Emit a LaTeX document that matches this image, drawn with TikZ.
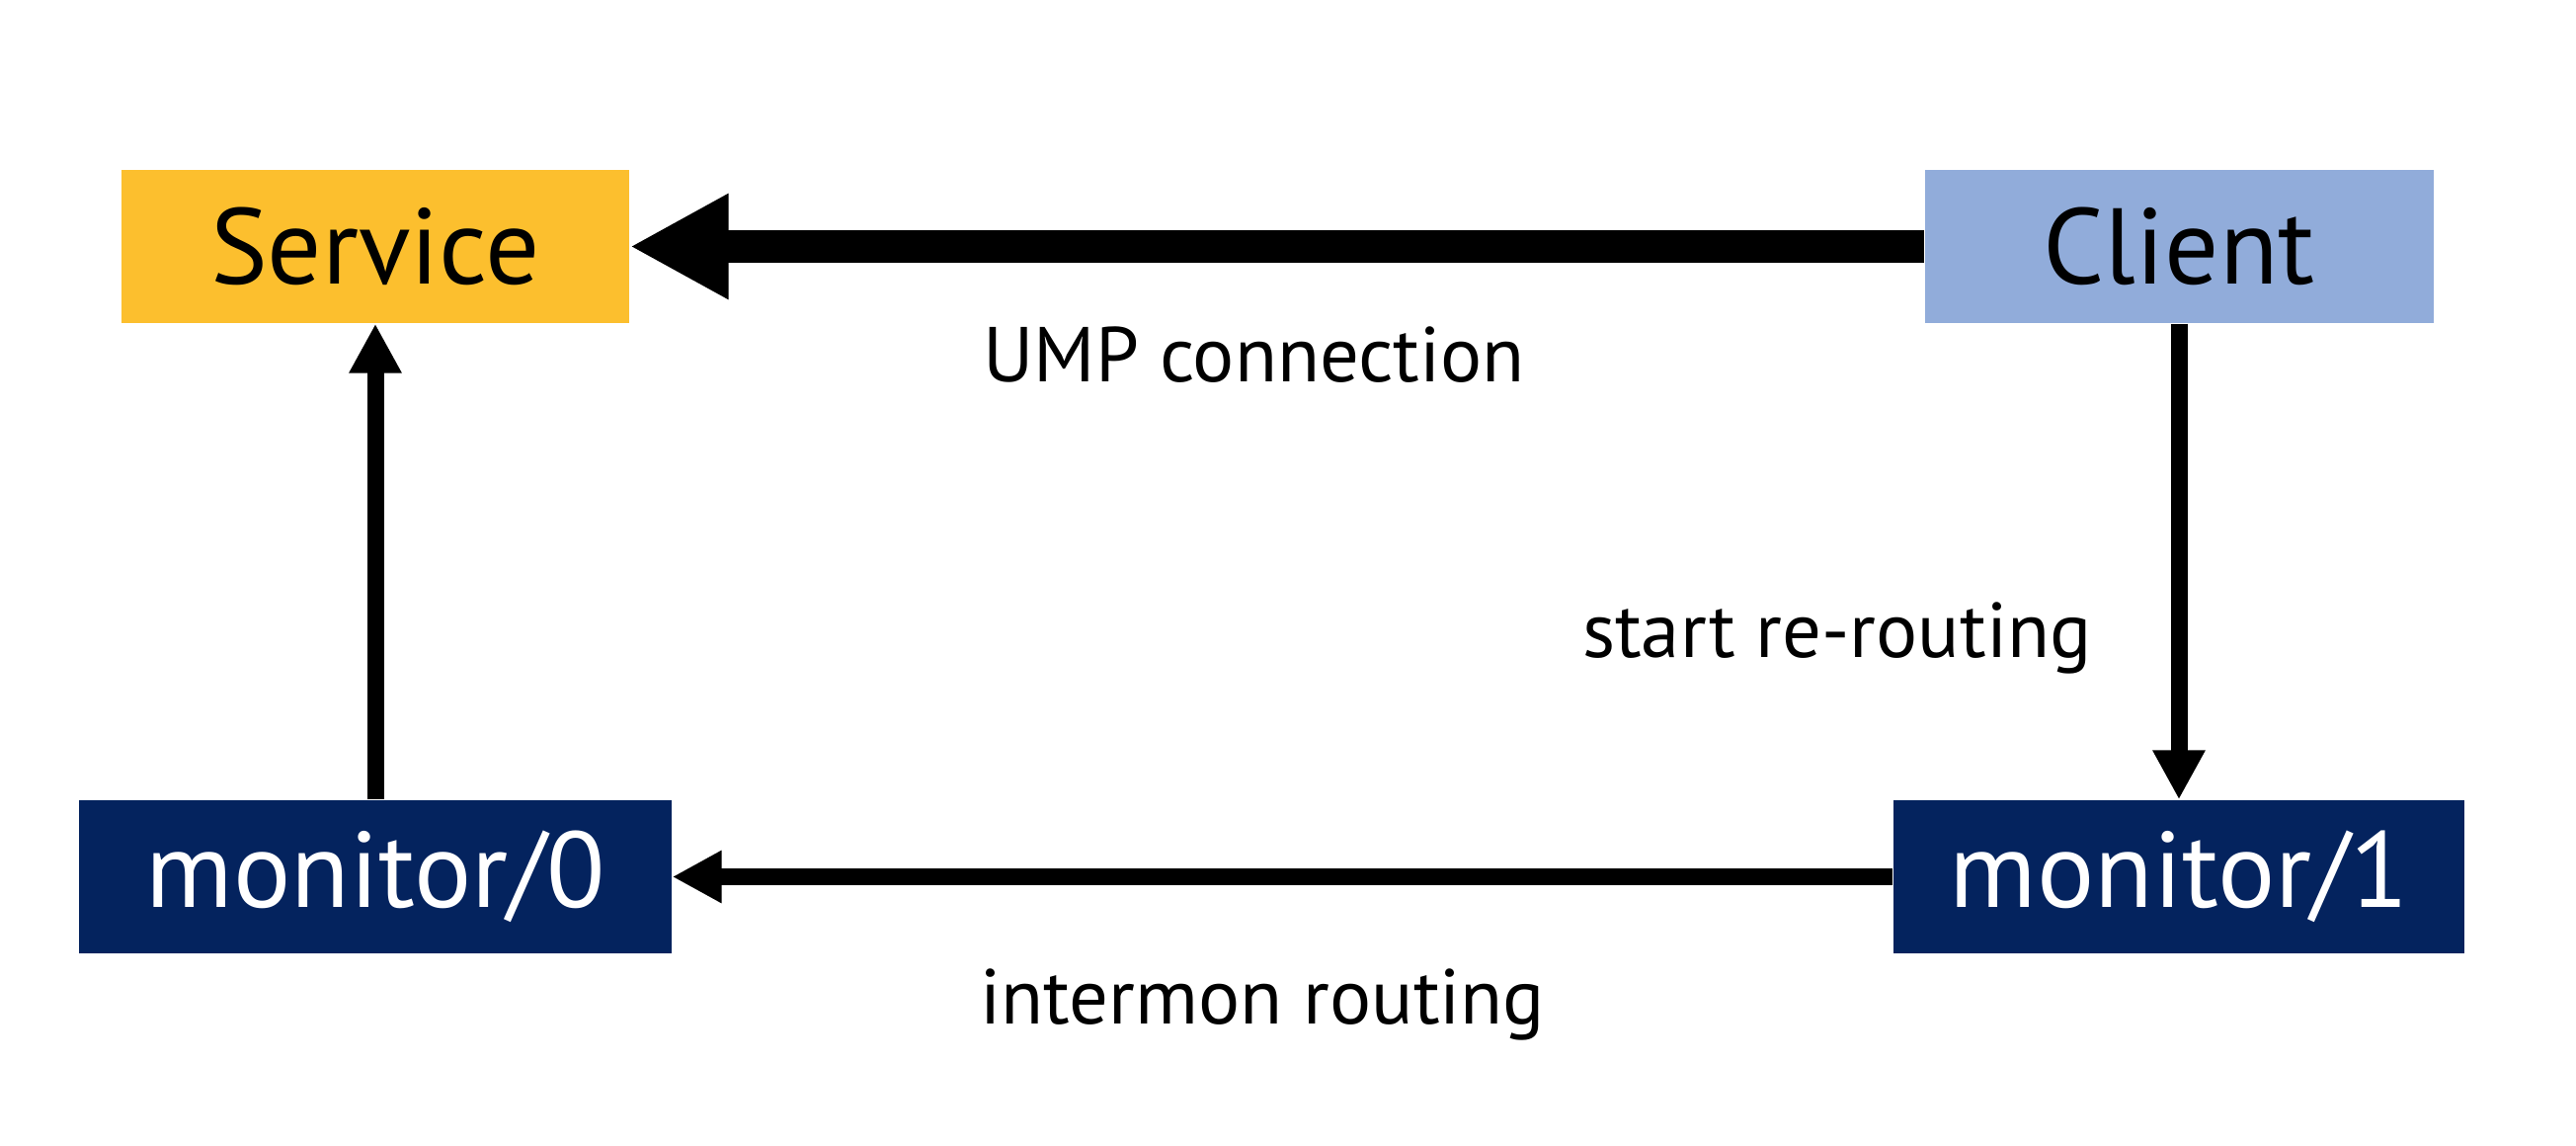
\documentclass[tikz,border=0pt]{standalone}
\usepackage{fontspec}
\setmainfont{PT Sans}
\usetikzlibrary{positioning,arrows.meta}
\definecolor{servicecol}{RGB}{252,191,46}
\definecolor{clientcol}{RGB}{145,172,218}
\definecolor{moncol}{RGB}{4,35,94}
\begin{document}
\begin{tikzpicture}[
  box/.style={minimum height=1.55cm, inner sep=0pt, font=\fontsize{31}{36}\selectfont},
  mon/.style={box, fill=moncol, text=white},
  lbl/.style={font=\fontsize{22.4}{26}\selectfont, inner sep=2pt},
  bigarrow/.style={line width=0.33cm, -{Triangle[length=1cm, width=1cm]}},
  smallarrow/.style={line width=0.17cm, -{Triangle[length=0.5cm, width=0.5cm]}}]
  \useasboundingbox (0,0) rectangle (26.08,11.60);
  \node[box, fill=servicecol, minimum width=5.14cm] (service) at (3.80,9.105) {Service};
  \node[box, fill=clientcol, minimum width=5.15cm] (client) at (22.06,9.105) {Client};
  \node[mon, minimum width=6.00cm] (mon0) at (3.80,2.725) {monitor/0};
  \node[mon, minimum width=5.78cm] (mon1) at (client |- mon0) {monitor/1};
  \draw[bigarrow] (client) -- node[lbl, below=0.58cm, xshift=-0.23cm] {UMP connection} (service);
  \draw[smallarrow] (mon0) -- (service);
  \draw[smallarrow] (client) -- node[lbl, left=0.73cm, pos=0.66] {start re-routing} (mon1);
  \draw[smallarrow] (mon1) -- node[lbl, below=0.78cm, xshift=-0.2cm] {intermon routing} (mon0);
\end{tikzpicture}
\end{document}
